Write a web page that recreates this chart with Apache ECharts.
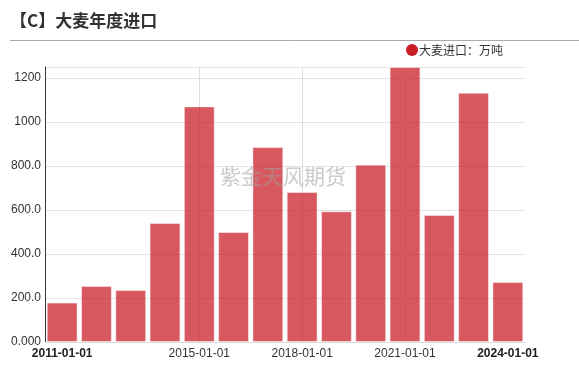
<!DOCTYPE html>
<html>
<head>
<meta charset="utf-8">
<script src="https://cdn.jsdelivr.net/npm/echarts@6/dist/echarts.min.js"></script>
<style>
  html, body { margin: 0; padding: 0; background: #fff; }
  #chart { width: 579px; height: 370px; }
</style>
</head>
<body>
<div id="chart"></div>
<script>
// 年份（时间轴按年）
var years = ['2011-01-01','2012-01-01','2013-01-01','2014-01-01','2015-01-01','2016-01-01','2017-01-01',
             '2018-01-01','2019-01-01','2020-01-01','2021-01-01','2022-01-01','2023-01-01','2024-01-01'];
// 大麦进口：万吨
var imports = [179, 255, 236, 541, 1071, 500, 886, 682, 594, 806, 1250, 577, 1133, 273];
// 显示的x轴标签
var shownLabels = [0, 4, 7, 10, 13];

var myChart = echarts.init(document.getElementById('chart'));

var option = {
  animation: false,
  textStyle: { fontFamily: 'Arial, "Noto Sans CJK SC", sans-serif' },
  graphic: [
    {
      type: 'text', left: 10, top: 12,
      style: { text: '【C】大麦年度进口', font: 'bold 17px "Noto Sans CJK SC"', fill: '#333' }
    },
    {
      type: 'line',
      shape: { x1: 10, y1: 40.5, x2: 579, y2: 40.5 },
      style: { stroke: '#aaa', lineWidth: 1 }
    },
    {
      type: 'text', left: 220, top: 166, z: 10,
      style: { text: '紫金天风期货', font: '21px "Noto Sans CJK SC"', fill: 'rgba(160,160,160,0.55)' }
    }
  ],
  legend: {
    data: ['大麦进口：万吨'],
    right: 71, top: 39,
    icon: 'circle',
    itemWidth: 12, itemHeight: 12, itemGap: 5,
    itemStyle: { color: 'rgb(200,30,40)', borderWidth: 0 },
    textStyle: { fontSize: 12, color: '#333', fontFamily: '"Noto Sans CJK SC"', padding: [0, 0, 0, -4] }
  },
  grid: { left: 45, right: 54, top: 67, bottom: 28 },
  xAxis: {
    type: 'category',
    data: years,
    boundaryGap: true,
    axisLine: { show: true, lineStyle: { color: '#ddd' } },
    axisTick: { show: false },
    axisLabel: {
      color: '#333', fontSize: 12, margin: 6,
      interval: function (i) { return shownLabels.indexOf(i) >= 0; },
      formatter: function (v, i) {
        return (i === 0 || i === years.length - 1) ? '{b|' + v + '}' : v;
      },
      rich: { b: { fontWeight: 'bold', fontSize: 12, color: '#222' } }
    },
    splitLine: {
      show: true,
      alignWithLabel: true,
      interval: function (i) { return i === 4 || i === 7 || i === 10; },
      lineStyle: { color: '#ddd' }
    }
  },
  yAxis: {
    type: 'value',
    min: 0, max: 'dataMax', interval: 200,
    axisLine: { show: true, lineStyle: { color: '#333' } },
    axisTick: { show: false },
    axisLabel: {
      color: '#333', fontSize: 12, margin: 4,
      showMaxLabel: false,
      formatter: function (v) {
        if (v === 0) return '0.000';
        if (v >= 1000) return String(v);
        return v.toFixed(1);
      }
    },
    splitLine: { lineStyle: { color: '#e3e3e3' } }
  },
  series: [
    {
      name: '大麦进口：万吨',
      type: 'bar',
      data: imports,
      barCategoryGap: '10%',
      itemStyle: {
        color: 'rgba(202,32,42,0.75)',
        borderColor: 'rgba(255,255,255,0.45)',
        borderWidth: 1
      }
    }
  ]
};

myChart.setOption(option);
</script>
</body>
</html>
